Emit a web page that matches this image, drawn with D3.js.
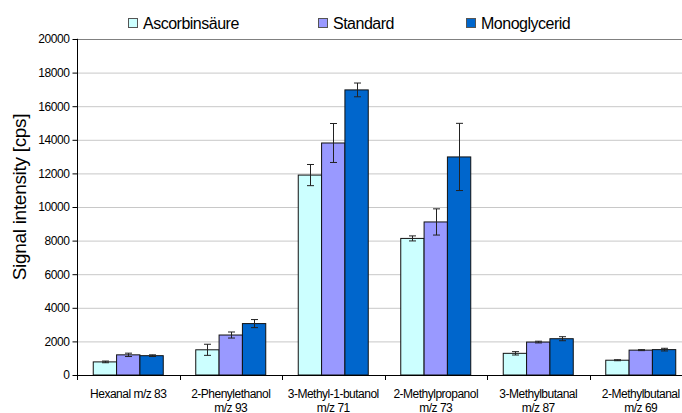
<!DOCTYPE html>
<html>
<head>
<meta charset="utf-8">
<script src="https://cdn.jsdelivr.net/npm/d3@7/dist/d3.min.js"></script>
<style>
  body { margin: 0; background: #fff; }
  svg { display: block; font-family: "Liberation Sans", Arial, sans-serif; }
</style>
</head>
<body>
<div class="draw-area"></div>
<script>
// Chart data
const categories = [
    ["Hexanal m/z 83"],
    ["2-Phenylethanol", "m/z 93"],
    ["3-Methyl-1-butanol", "m/z 71"],
    ["2-Methylpropanol", "m/z 73"],
    ["3-Methylbutanal", "m/z 87"],
    ["2-Methylbutanal", "m/z 69"]
];
const seriesNames = ["Ascorbinsäure", "Standard", "Monoglycerid"];
const seriesColors = ["#CCFFFF", "#9999FF", "#0066CC"];

const ascValues = [780, 1500, 11900, 8130, 1290, 880];
const ascErrors = [50, 330, 630, 150, 100, 30];
const stdValues = [1200, 2380, 13810, 9110, 1960, 1480];
const stdErrors = [100, 180, 1160, 780, 50, 30];
const monoValues = [1150, 3060, 16970, 12980, 2160, 1510];
const monoErrors = [50, 240, 410, 2000, 120, 80];

const yTicks = [0, 2000, 4000, 6000, 8000, 10000, 12000, 14000, 16000, 18000, 20000];

// Layout
const width = 682, height = 413;
const plotLeft = 77, plotTop = 39, plotBottom = 375;
const bandWidth = 102.5;
const catKeys = categories.map(c => c.join(" "));

const svg = d3.select(".draw-area")
    .append("svg")
    .attr("width", width)
    .attr("height", height);

// Scales
const x0 = d3.scaleBand()
    .domain(catKeys)
    .range([plotLeft, plotLeft + bandWidth * categories.length])
    .padding(0);

const x1 = d3.scaleBand()
    .domain(seriesNames)
    .range([16.25, bandWidth - 16.25])
    .padding(0);

const y = d3.scaleLinear()
    .domain([0, 20000])
    .range([plotBottom, plotTop]);

// Gridlines
svg.append("g")
    .selectAll("line")
    .data(yTicks.filter(t => t > 0))
    .join("line")
    .attr("x1", plotLeft).attr("x2", width)
    .attr("y1", d => y(d) + 0.5).attr("y2", d => y(d) + 0.5)
    .attr("stroke", d => d === 20000 ? "#808080" : "#c8c8c8")
    .attr("stroke-width", 1);

// Bars
const series = [
    { name: seriesNames[0], values: ascValues, errors: ascErrors, color: seriesColors[0] },
    { name: seriesNames[1], values: stdValues, errors: stdErrors, color: seriesColors[1] },
    { name: seriesNames[2], values: monoValues, errors: monoErrors, color: seriesColors[2] }
];

const barData = [];
series.forEach(s => {
    catKeys.forEach((c, i) => {
        barData.push({ cat: c, name: s.name, value: s.values[i], err: s.errors[i], color: s.color });
    });
});

svg.append("g")
    .selectAll("rect")
    .data(barData)
    .join("rect")
    .attr("x", d => x0(d.cat) + x1(d.name))
    .attr("y", d => y(d.value))
    .attr("width", x1.bandwidth())
    .attr("height", d => y(0) - y(d.value))
    .attr("fill", d => d.color)
    .attr("stroke", "#111")
    .attr("stroke-width", 1);

// Error bars
const errG = svg.append("g").attr("stroke", "#222").attr("stroke-width", 1);
barData.forEach(d => {
    const cx = Math.round(x0(d.cat) + x1(d.name) + x1.bandwidth() / 2) + 0.5;
    const yHi = y(d.value + d.err), yLo = y(d.value - d.err);
    errG.append("line").attr("x1", cx).attr("x2", cx).attr("y1", yHi).attr("y2", yLo);
    errG.append("line").attr("x1", cx - 3.5).attr("x2", cx + 3.5).attr("y1", yHi).attr("y2", yHi);
    errG.append("line").attr("x1", cx - 3.5).attr("x2", cx + 3.5).attr("y1", yLo).attr("y2", yLo);
});

// Y axis
const yAxis = d3.axisLeft(y)
    .tickValues(yTicks)
    .tickSize(5)
    .tickPadding(3)
    .tickFormat(d3.format("d"));

const yAxisG = svg.append("g")
    .attr("transform", `translate(${plotLeft + 0.5},0)`)
    .call(yAxis);
yAxisG.select(".domain").attr("d", `M-0.5,${plotTop}H0V${plotBottom + 5}`).attr("stroke", "#000");
yAxisG.selectAll(".tick line").attr("stroke", "#000");
yAxisG.selectAll(".tick text")
    .attr("font-size", 12)
    .attr("letter-spacing", -0.4)
    .attr("fill", "#000")
    .attr("font-family", "'Liberation Sans', Arial, sans-serif");

// X axis line and category ticks
svg.append("line")
    .attr("x1", plotLeft).attr("x2", width)
    .attr("y1", plotBottom + 0.5).attr("y2", plotBottom + 0.5)
    .attr("stroke", "#000");

svg.append("g")
    .selectAll("line")
    .data(catKeys.slice(1))
    .join("line")
    .attr("x1", d => Math.round(x0(d)) + 0.5).attr("x2", d => Math.round(x0(d)) + 0.5)
    .attr("y1", plotBottom).attr("y2", plotBottom + 5)
    .attr("stroke", "#000");

// Category labels
const labelG = svg.append("g")
    .attr("font-size", 12)
    .attr("letter-spacing", -0.5)
    .attr("text-anchor", "middle")
    .attr("fill", "#000");

categories.forEach((lines, i) => {
    const cx = x0(catKeys[i]) + bandWidth / 2;
    const t = labelG.append("text").attr("x", cx).attr("y", 398);
    lines.forEach((ln, j) => {
        t.append("tspan").attr("x", cx).attr("dy", j === 0 ? 0 : 13.5).text(ln);
    });
});

// Y axis title
svg.append("text")
    .attr("transform", "translate(26,197) rotate(-90)")
    .attr("text-anchor", "middle")
    .attr("font-size", 19)
    .attr("letter-spacing", -0.3)
    .attr("fill", "#000")
    .text("Signal intensity [cps]");

// Legend
const legendX = [128, 318, 466];
const legend = svg.append("g");
series.forEach((s, i) => {
    legend.append("rect")
        .attr("x", legendX[i] + 0.5).attr("y", 18.5)
        .attr("width", 9).attr("height", 9)
        .attr("fill", s.color)
        .attr("stroke", "#555");
    legend.append("text")
        .attr("x", legendX[i] + 15).attr("y", 28.5)
        .attr("font-size", 16)
        .attr("letter-spacing", -0.5)
        .attr("fill", "#000")
        .text(s.name);
});
</script>
</body>
</html>
